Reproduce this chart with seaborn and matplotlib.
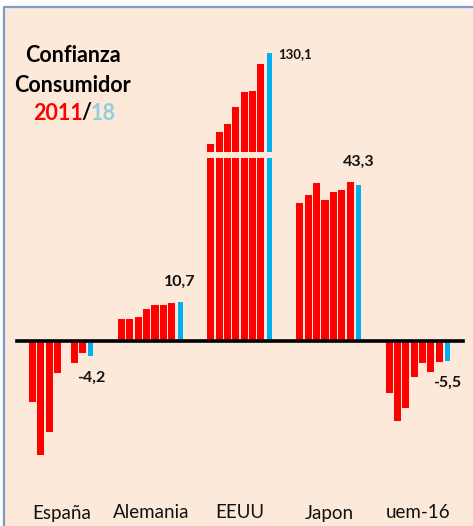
import numpy as np
import pandas as pd
import matplotlib
matplotlib.use("Agg")
import matplotlib.pyplot as plt
from matplotlib.lines import Line2D
from matplotlib.patches import Rectangle
import seaborn as sns

# ---- data ----
countries = ["España", "Alemania", "EEUU", "Japon", "uem-16"]
years = ["2011", "2012", "2013", "2014", "2015", "2016", "2017", "2018"]
espana = [-16.9, -31.7, -25.3, -8.8, -0.2, -6.2, -3.2, -4.2]
alemania = [6.2, 6.2, 6.8, 8.8, 10.0, 10.0, 10.6, 10.7]
eeuu = [61.3, 70.1, 76.4, 89.0, 100.2, 101.4, 121.6, 130.1]
japon = [38.4, 40.6, 44.0, 39.2, 41.4, 41.9, 44.2, 43.3]
uem16 = [-14.4, -22.2, -18.7, -10.1, -6.1, -8.5, -5.8, -5.5]

series = {"España": espana, "Alemania": alemania, "EEUU": eeuu,
          "Japon": japon, "uem-16": uem16}
rows = []
for c in countries:
    for y, v in zip(years, series[c]):
        rows.append({"pais": c, "año": y, "valor": v})
df = pd.DataFrame(rows)

RED = "#FF0000"
BLUE = "#00B0F0"
palette = {y: (BLUE if y == years[-1] else RED) for y in years}

sns.set_style("white")
plt.rcParams["font.family"] = ["Lato", "DejaVu Sans"]

W, H = 473, 526
fig = plt.figure(figsize=(W / 100, H / 100), dpi=100)
fig.patch.set_facecolor("white")

# background panel with left/top border
bg = Rectangle((4 / W, 0), 1, 1 - 7 / H, transform=fig.transFigure,
               facecolor="#FDE9D9", edgecolor="none", zorder=0)
fig.add_artist(bg)
fig.add_artist(Line2D([4 / W, 4 / W], [0, 1 - 7 / H], transform=fig.transFigure,
                      color="#7A9CCB", lw=1.6, zorder=1))
fig.add_artist(Line2D([4 / W, 1], [1 - 7 / H, 1 - 7 / H], transform=fig.transFigure,
                      color="#7A9CCB", lw=1.6, zorder=1))

def px_axes(x0, x1, ytop, ybot):
    return [x0 / W, 1 - ybot / H, (x1 - x0) / W, (ybot - ytop) / H]

# main axes: zero at y=341px, 3.6 px per unit
SCALE = 3.6
ZERO = 341
ax = fig.add_axes(px_axes(17, 463, 158, 470))
ax.set_facecolor("none")
ax.set_ylim(-(470 - ZERO) / SCALE, (ZERO - 158) / SCALE)

sns.barplot(data=df, x="pais", y="valor", hue="año", order=countries,
            hue_order=years, palette=palette, width=0.75, gap=0.15,
            linewidth=0, ax=ax, legend=False, errorbar=None, saturation=1)

# upper broken-axis panel for EEUU
LOW = 55.0
K = 99.3 / (130.1 - LOW)
ax2 = fig.add_axes(px_axes(17, 463, 40, 152))
ax2.set_facecolor("none")
sns.barplot(data=df[df["pais"] == "EEUU"], x="pais", y="valor", hue="año",
            order=countries, hue_order=years, palette=palette, width=0.75,
            gap=0.15, linewidth=0, ax=ax2, legend=False, errorbar=None,
            saturation=1)
ax2.set_xlim(-0.5, len(countries) - 0.5)
ax2.set_ylim(LOW, LOW + (152 - 40) / K)
ax2.axis("off")

# narrower blue bars
for a in (ax, ax2):
    for p in a.containers[-1]:
        w = p.get_width()
        p.set_x(p.get_x() + w * 0.15)
        p.set_width(w * 0.7)

ax.set_xlim(-0.5, len(countries) - 0.5)
for s in ["top", "right", "left"]:
    ax.spines[s].set_visible(False)
ax.spines["bottom"].set_position(("data", 0))
ax.spines["bottom"].set_linewidth(2.6)
ax.spines["bottom"].set_color("black")
ax.spines["bottom"].set_zorder(5)
ax.set_yticks([])
ax.set_xticks(range(len(countries)))
ax.set_xticklabels([])
ax.set_xticks(np.arange(-0.5, len(countries), 1), minor=True)
ax.tick_params(axis="x", which="major", length=0)
ax.tick_params(axis="x", which="minor", direction="out", length=4, width=2.4,
               color="black")
ax.set_xlabel("")
ax.set_ylabel("")

# category labels at the bottom
blend = matplotlib.transforms.blended_transform_factory(ax.transData, fig.transFigure)
for i, c in enumerate(countries):
    ax.text(i, 1 - 513 / H, c, transform=blend, ha="center", va="center",
            fontsize=13.5, color="#111111")

# value labels on the last bar
fmt = lambda v: f"{v:.1f}".replace(".", ",")
last = {c: series[c][-1] for c in countries}
blue_bars = list(ax.containers[-1])
xc = [p.get_x() + p.get_width() / 2 for p in blue_bars]
offsets = {"España": -22, "Alemania": 21, "Japon": 23, "uem-16": -22}
for i, c in enumerate(countries):
    if c == "EEUU":
        ax2.annotate(fmt(last[c]), xy=(xc[i], last[c]), xytext=(9, -1),
                     textcoords="offset pixels", ha="left", va="center",
                     fontsize=9.5, fontweight="bold", color="#111111",
                     annotation_clip=False)
    else:
        ax.annotate(fmt(last[c]), xy=(xc[i], last[c]), xytext=(0, offsets[c]),
                    textcoords="offset pixels", ha="center", va="center",
                    fontsize=11.5, fontweight="bold", color="#111111",
                    annotation_clip=False)

# title
TS = 15.5
fig.text(73 / W, 1 - 55 / H, "Confianza", ha="center", va="center",
         fontsize=TS, fontweight="bold", color="black")
fig.text(72 / W, 1 - 85 / H, "Consumidor", ha="center", va="center",
         fontsize=TS, fontweight="bold", color="black")
t1 = fig.text(33 / W, 1 - 113 / H, "2011", ha="left", va="center",
              fontsize=TS, fontweight="bold", color=RED)
t2 = fig.add_artist(matplotlib.text.Annotation("/", xy=(1, 0.5), xycoords=t1,
                    xytext=(-1, 0), textcoords="offset pixels",
                    va="center", ha="left", fontsize=TS, fontweight="bold",
                    color="black"))
t3 = fig.add_artist(matplotlib.text.Annotation("18", xy=(1, 0.5), xycoords=t2,
                    xytext=(-1, 0), textcoords="offset pixels",
                    va="center", ha="left", fontsize=TS, fontweight="bold",
                    color="#92CDDC"))

fig.savefig("out.png", dpi=100, facecolor=fig.get_facecolor())
